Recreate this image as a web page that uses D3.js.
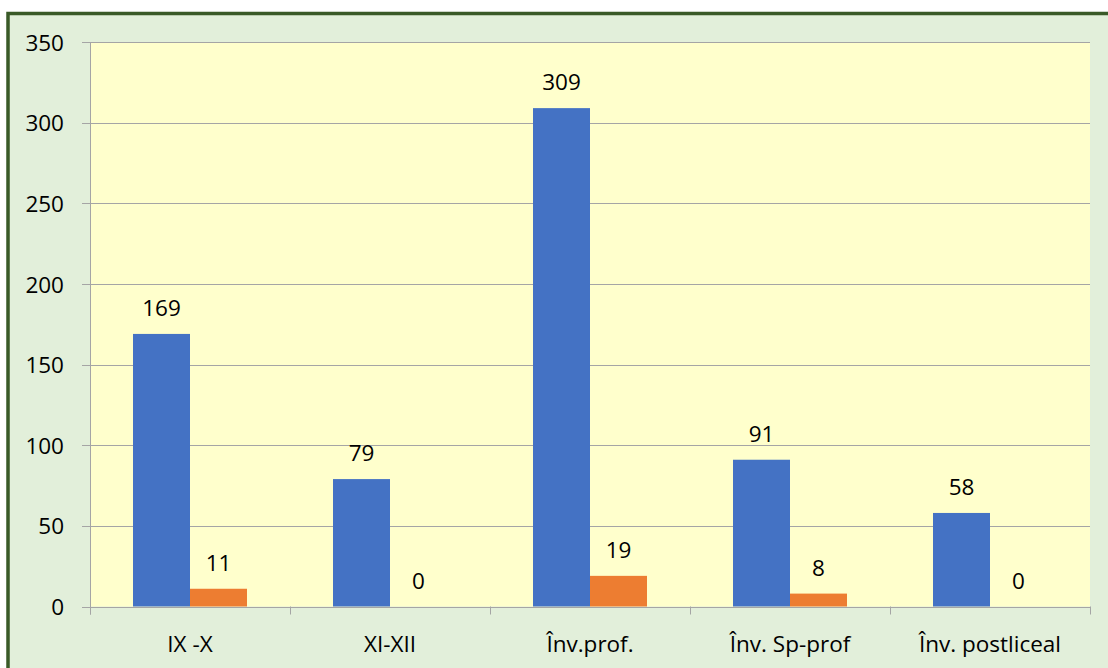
<!DOCTYPE html>
<html>
<head>
<meta charset="utf-8">
<script src="https://cdn.jsdelivr.net/npm/d3@7"></script>
<style>
html,body{margin:0;padding:0;background:#fff;}
svg{display:block;}
text{font-family:"Open Sans",sans-serif;fill:#000;}
</style>
</head>
<body>
<svg id="chart" width="1108" height="668"></svg>
<script>
const categories = ["IX -X", "XI-XII", "Înv.prof.", "Înv. Sp-prof", "Înv. postliceal"];
const seriesA = [169, 79, 309, 91, 58];
const seriesB = [11, 0, 19, 8, 0];
const yTicks = [0, 50, 100, 150, 200, 250, 300, 350];
const seriesNames = ["A", "B"];
const colors = ["#4472c4", "#ed7d31"];

(function () {
const svg = d3.select("#chart");
const fontSize = 22.5;

svg.append("rect").attr("x", 8).attr("y", 13.5).attr("width", 1140).attr("height", 700)
  .attr("fill", "#e2efda").attr("stroke", "#3a5a27").attr("stroke-width", 3.5);

const pLeft = 90, pRight = 1090, pTop = 42, pBottom = 606.5;

const x = d3.scaleBand().domain(categories).range([pLeft, pRight]).padding(0);
const y = d3.scaleLinear().domain([0, 350]).range([pBottom, pTop]);
const groupPad = 43;
const x1 = d3.scaleBand().domain(seriesNames).range([groupPad, x.bandwidth() - groupPad]).padding(0);

svg.append("rect").attr("x", pLeft).attr("y", pTop).attr("width", pRight - pLeft).attr("height", pBottom - pTop).attr("fill", "#ffffcc");

svg.append("g").selectAll("line").data(yTicks.filter(d => d > 0)).join("line")
  .attr("x1", pLeft - 8).attr("x2", pRight)
  .attr("y1", d => Math.round(y(d)) + 0.5).attr("y2", d => Math.round(y(d)) + 0.5)
  .attr("stroke", "#a5a5a5").attr("stroke-width", 1);

const yAxis = d3.axisLeft(y).tickValues(yTicks).tickSize(0).tickPadding(26);
const gy = svg.append("g").attr("transform", `translate(${pLeft},0)`).call(yAxis);
gy.select(".domain").remove();
gy.selectAll("text").style("font-size", fontSize + "px").style("font-family", "'Open Sans',sans-serif").attr("dy", "0.36em");
svg.append("line").attr("x1", pLeft + 0.5).attr("x2", pLeft + 0.5).attr("y1", pTop).attr("y2", pBottom + 8)
  .attr("stroke", "#a5a5a5");
svg.append("line").attr("x1", pLeft - 8).attr("x2", pRight).attr("y1", Math.round(pBottom) + 0.5).attr("y2", Math.round(pBottom) + 0.5)
  .attr("stroke", "#a5a5a5");

const bounds = categories.map(c => x(c)).concat([pRight]);
svg.append("g").selectAll("line").data(bounds).join("line")
  .attr("x1", d => d + 0.5).attr("x2", d => d + 0.5).attr("y1", pBottom).attr("y2", pBottom + 8)
  .attr("stroke", "#a5a5a5");

const xAxis = d3.axisBottom(x).tickSize(0);
const gx = svg.append("g").attr("transform", `translate(0,${pBottom})`).call(xAxis);
gx.select(".domain").remove();
gx.selectAll("text").style("font-size", fontSize + "px").style("font-family", "'Open Sans',sans-serif")
  .attr("y", 652 - pBottom).attr("dy", 0);

const data = categories.map((c, i) => ({c, vals: [seriesA[i], seriesB[i]]}));
const groups = svg.append("g").selectAll("g").data(data).join("g")
  .attr("transform", d => `translate(${x(d.c)},0)`);
groups.selectAll("rect").data(d => d.vals.map((v, j) => ({v, j}))).join("rect")
  .attr("x", d => x1(seriesNames[d.j]))
  .attr("width", x1.bandwidth())
  .attr("y", d => y(d.v))
  .attr("height", d => y(0) - y(d.v))
  .attr("fill", d => colors[d.j]);
groups.selectAll("text").data(d => d.vals.map((v, j) => ({v, j}))).join("text")
  .attr("x", d => x1(seriesNames[d.j]) + x1.bandwidth() / 2)
  .attr("y", d => y(d.v) - 18)
  .attr("text-anchor", "middle")
  .style("font-size", fontSize + "px")
  .text(d => d.v);
})();
</script>
</body>
</html>
